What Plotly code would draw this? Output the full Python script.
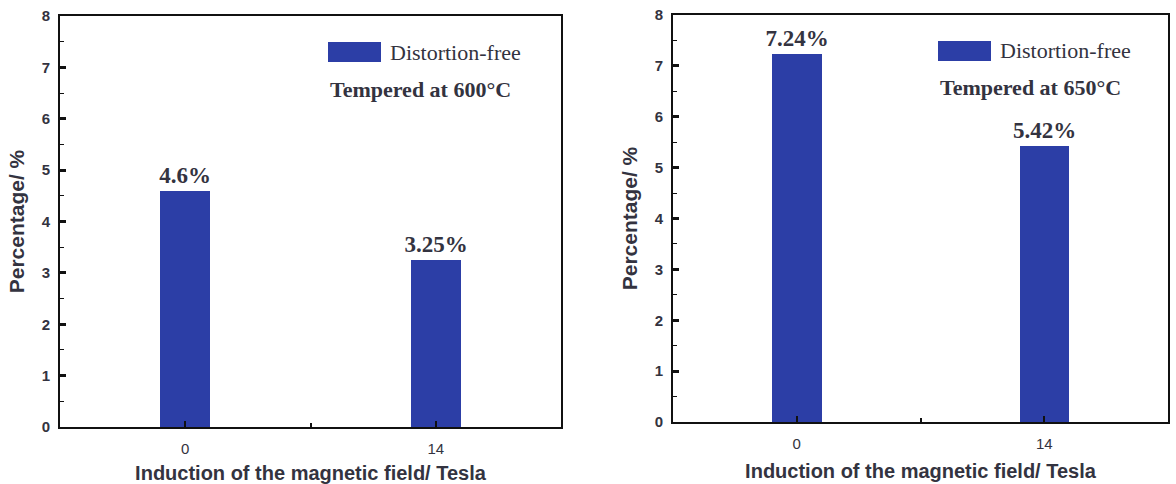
import plotly.graph_objects as go
from plotly.subplots import make_subplots

fields = ["0", "14"]
pct_600 = [4.6, 3.25]
pct_650 = [7.24, 5.42]
series_name = "Distortion-free"
panel_notes = ["Tempered at 600°C", "Tempered at 650°C"]
x_title = "Induction of the magnetic field/ Tesla"
y_title = "Percentage/ %"

BAR = "#2c3ea6"
TXT = "#333340"
SANS = "Liberation Sans, Arial, sans-serif"
SERIF = "Liberation Serif, Times New Roman, serif"

W, H = 1176, 484
OFF = 0

fig = make_subplots(rows=1, cols=2)
xpos = list(range(len(fields)))

for i, vals in enumerate([pct_600, pct_650]):
    fig.add_trace(go.Bar(
        x=xpos, y=vals, width=0.2, name=series_name,
        marker=dict(color=BAR, line=dict(width=0)),
        texttemplate="<b>%{y}%</b>", textposition="outside", cliponaxis=False,
        constraintext="none",
        textfont=dict(family=SERIF, size=23, color=TXT),
        showlegend=False,
    ), row=1, col=i + 1)

# plot-area boxes in page pixels: (left, right, top, bottom)
boxes = [(60, 561, 16, 427), (673, 1168, 15, 422)]
legend_px = [(328, 42), (938, 41)]

for i, (l, r, t, b) in enumerate(boxes):
    l, r, t, b = l - OFF, r - OFF, t - OFF, b - OFF
    dx = [l / W, r / W]
    dy = [1 - b / H, 1 - t / H]
    n = "" if i == 0 else "2"
    fig.update_layout(**{
        f"xaxis{n}": dict(
            domain=dx, range=[-0.5, 1.5], tickmode="array", tickvals=xpos, ticktext=fields,
            ticks="inside", ticklen=6, tickwidth=2, tickcolor="#111",
            showline=True, linecolor="#111", linewidth=2, mirror=True,
            showgrid=False, zeroline=False, automargin=False,
            ticklabeloverflow="allow", ticklabelstandoff=7,
            minor=dict(tickmode="array", tickvals=[0.5], ticks="inside", ticklen=4, tickwidth=2, tickcolor="#111"),
            tickfont=dict(family=SANS, size=15, color=TXT),
            title=dict(text=f"<b>{x_title}</b>", font=dict(family=SANS, size=20, color=TXT), standoff=13),
        ),
        f"yaxis{n}": dict(
            domain=dy, range=[0, 8], dtick=1,
            ticks="inside", ticklen=6, tickwidth=3, tickcolor="#111",
            showline=True, linecolor="#111", linewidth=2, mirror=True,
            showgrid=False, zeroline=False, automargin=False,
            ticklabeloverflow="allow", ticklabelstandoff=5,
            minor=dict(dtick=0.5, ticks="inside", ticklen=4, tickwidth=1, tickcolor="#111"),
            tickfont=dict(family=SANS, size=15, color=TXT),
            tickprefix="<b>", ticksuffix="</b>",
            title=dict(text=f"<b>{y_title}</b>", font=dict(family=SANS, size=21, color=TXT), standoff=11),
        ),
    })
    xd = "x domain" if i == 0 else "x2 domain"
    yd = "y domain" if i == 0 else "y2 domain"
    pw, ph = r - l, b - t
    lxp, lyp = legend_px[i]
    lx0 = (lxp - OFF - l) / pw
    ly0 = 1 - (lyp - OFF - t) / ph
    fig.add_shape(type="rect", xref=xd, yref=yd,
                  x0=lx0, x1=lx0 + 53 / pw, y0=ly0 - 20 / ph, y1=ly0,
                  fillcolor=BAR, line=dict(width=0))
    fig.add_annotation(xref=xd, yref=yd, x=lx0 + 60 / pw, y=ly0 - 10 / ph,
                       text=series_name, showarrow=False, xanchor="left", yanchor="middle",
                       font=dict(family=SERIF, size=22, color=TXT))
    fig.add_annotation(xref=xd, yref=yd, x=lx0 + 0 / pw, y=ly0 - 47 / ph,
                       text=f"<b>{panel_notes[i]}</b>", showarrow=False, xanchor="left", yanchor="middle",
                       font=dict(family=SERIF, size=22, color=TXT))

fig.update_layout(
    width=W, height=H,
    margin=dict(l=0, r=0, t=0, b=0),
    paper_bgcolor="white", plot_bgcolor="white",
    bargap=0, showlegend=False,
)

fig.write_html(
    "out.html",
    config={"displayModeBar": False},
    post_script="document.body.style.margin='0';document.body.style.overflow='hidden';",
)
